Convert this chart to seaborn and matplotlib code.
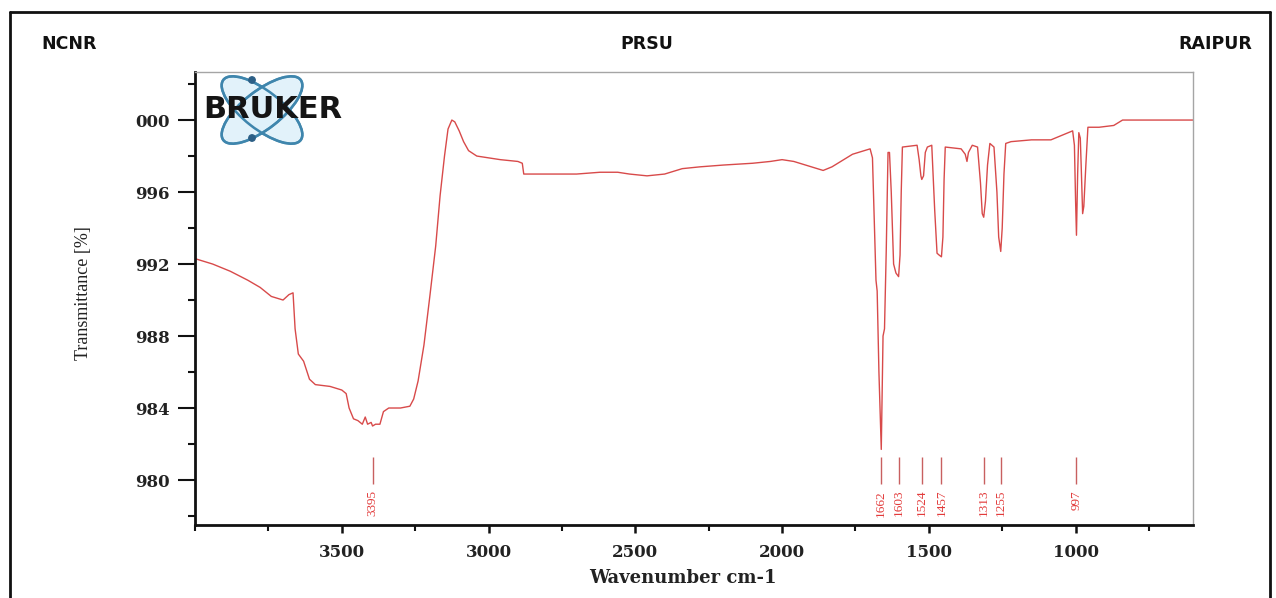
import matplotlib
matplotlib.use("Agg")
import matplotlib.pyplot as plt
import pandas as pd
import seaborn as sns
from matplotlib.patches import Ellipse, Circle
from matplotlib.lines import Line2D
from matplotlib.ticker import MultipleLocator

# IR spectrum: wavenumber (cm-1) and transmittance
wavenumber = [
    4000, 3940, 3880, 3820, 3778, 3740, 3700, 3680, 3666, 3659, 3648, 3630,
    3610, 3590, 3540, 3500, 3485, 3475, 3460, 3445, 3430, 3420, 3412, 3400,
    3395, 3385, 3370, 3358, 3340, 3300, 3268, 3255, 3240, 3220, 3200, 3180,
    3165, 3150, 3138, 3125, 3115, 3100, 3085, 3068, 3040, 3000, 2960, 2900,
    2885, 2880, 2860, 2800, 2700, 2620, 2560, 2520, 2460, 2400, 2340, 2280,
    2200, 2100, 2040, 2000, 1960, 1920, 1880, 1860, 1830, 1800, 1760, 1720,
    1700, 1692, 1686, 1680, 1676, 1670, 1662, 1656, 1651, 1645, 1639, 1634,
    1628, 1620, 1612, 1603, 1598, 1594, 1590, 1540, 1533, 1527, 1524, 1518,
    1512, 1505, 1490, 1480, 1472, 1465, 1457, 1452, 1448, 1444, 1390, 1376,
    1370, 1365, 1352, 1334, 1324, 1318, 1313, 1307, 1300, 1292, 1278, 1268,
    1262, 1255, 1250, 1244, 1238, 1220, 1150, 1084, 1040, 1010, 1004, 1000,
    997, 993, 989, 984, 981, 976, 972, 965, 958, 920, 870, 840, 700, 600,
]
transmittance = [
    992.3, 992.0, 991.6, 991.1, 990.7, 990.2, 990.0, 990.3, 990.4, 988.4, 987.0, 986.6,
    985.6, 985.3, 985.2, 985.0, 984.8, 984.0, 983.4, 983.3, 983.1, 983.5, 983.1, 983.2,
    983.0, 983.1, 983.1, 983.8, 984.0, 984.0, 984.1, 984.5, 985.5, 987.5, 990.2, 993.0,
    995.8, 998.0, 999.5, 1000.0, 999.9, 999.4, 998.8, 998.3, 998.0, 997.9, 997.8, 997.7,
    997.6, 997.0, 997.0, 997.0, 997.0, 997.1, 997.1, 997.0, 996.9, 997.0, 997.3, 997.4,
    997.5, 997.6, 997.7, 997.8, 997.7, 997.5, 997.3, 997.2, 997.4, 997.7, 998.1, 998.3,
    998.4, 997.9, 994.4, 991.1, 990.5, 986.0, 981.7, 988.0, 988.4, 992.8, 998.2, 998.2,
    996.0, 992.0, 991.5, 991.3, 992.5, 996.0, 998.5, 998.6, 997.8, 996.9, 996.7, 996.9,
    998.2, 998.5, 998.6, 995.0, 992.6, 992.5, 992.4, 993.5, 996.7, 998.5, 998.4, 998.1,
    997.7, 998.2, 998.6, 998.5, 996.5, 994.8, 994.6, 995.5, 997.5, 998.7, 998.5, 996.0,
    993.5, 992.7, 994.0, 997.0, 998.7, 998.8, 998.9, 998.9, 999.2, 999.4, 998.6, 995.5,
    993.6, 997.0, 999.3, 999.0, 997.5, 994.8, 995.2, 997.5, 999.6, 999.6, 999.7, 1000.0,
    1000.0, 1000.0,
]

# Labelled band positions
peak_positions = [3395, 1662, 1603, 1524, 1457, 1313, 1255, 997]

# Axis ticks
x_ticks = [3500, 3000, 2500, 2000, 1500, 1000]
x_tick_labels = ["3500", "3000", "2500", "2000", "1500", "1000"]
y_ticks = [980, 984, 988, 992, 996, 1000]
y_tick_labels = ["980", "984", "988", "992", "996", "000"]

sns.set_style("white")

W, H = 1276, 598
fig = plt.figure(figsize=(W / 100, H / 100), dpi=100)
fig.patch.set_facecolor("white")

ax_l, ax_r, ax_t, ax_b = 195, 1193, 72, 525
ax = fig.add_axes([ax_l / W, 1 - ax_b / H, (ax_r - ax_l) / W, (ax_b - ax_t) / H])

df = pd.DataFrame({"wavenumber": wavenumber, "transmittance": transmittance})
sns.lineplot(data=df, x="wavenumber", y="transmittance", ax=ax,
             color="#d84a4a", lw=1.0, sort=False, estimator=None)

ax.set_xlim(4000, 600)
ax.set_ylim(977.5, 1002.67)

# Band markers and their labels
ax.vlines(peak_positions, 979.8, 981.3, color="#c86060", lw=1.0)
for p in peak_positions:
    ax.text(p, 979.45, str(p), rotation=90, ha="center", va="top",
            color="#e23a3a", family="Liberation Serif", fontsize=9.5)

# Ticks
ax.set_xticks(x_ticks)
ax.set_xticklabels(x_tick_labels, fontfamily="DejaVu Serif", fontweight="bold",
                   fontsize=12, color="#222222")
ax.set_yticks(y_ticks)
ax.set_yticklabels(y_tick_labels, fontfamily="DejaVu Serif", fontweight="bold",
                   fontsize=12, color="#222222")
ax.xaxis.set_minor_locator(MultipleLocator(250))
ax.yaxis.set_minor_locator(MultipleLocator(2))
ax.tick_params(axis="y", which="major", direction="out", length=12, width=1.5,
               pad=6, color="#111111", left=True)
ax.tick_params(axis="y", which="minor", direction="out", length=5, width=1.5,
               color="#111111", left=True)
ax.tick_params(axis="x", which="major", direction="out", length=6, width=1.8,
               pad=8, color="#111111", bottom=True)
ax.tick_params(axis="x", which="minor", direction="out", length=4, width=1.5,
               color="#111111", bottom=True)

ax.set_xlabel("")
ax.set_ylabel("")

for side in ("left", "bottom"):
    ax.spines[side].set_color("#111111")
    ax.spines[side].set_linewidth(2.0)
for side in ("top", "right"):
    ax.spines[side].set_color("#a5a5a5")
    ax.spines[side].set_linewidth(1.0)

# Axis titles
fig.text(83 / W, 1 - 293 / H, "Transmittance [%]", rotation=90, ha="center",
         va="center", family="Liberation Serif", fontsize=13, color="#222222")
fig.text(683 / W, 1 - 578 / H, "Wavenumber cm-1", ha="center", va="center",
         family="DejaVu Serif", fontweight="bold", fontsize=13, color="#222222")

# Header line
for label, xc in (("NCNR", 69), ("PRSU", 647), ("RAIPUR", 1215)):
    fig.text(xc / W, 1 - 44 / H, label, ha="center", va="center",
             family="DejaVu Sans", fontweight="heavy", fontsize=12.5, color="#111111")

# Instrument logo
lx0, ly0, lw_, lh_ = 195, 73, 160, 97
logo = fig.add_axes([lx0 / W, 1 - (ly0 + lh_) / H, lw_ / W, lh_ / H])
logo.set_xlim(0, lw_)
logo.set_ylim(lh_, 0)
logo.axis("off")
logo.patch.set_alpha(0)
cx, cy = 262 - lx0, 110 - ly0
for ang in (38, -38):
    logo.add_patch(Ellipse((cx, cy), 98, 38, angle=ang, facecolor="#dff1fa",
                           edgecolor="#3f86ad", lw=1.8, alpha=0.9))
for ang in (38, -38):
    logo.add_patch(Ellipse((cx, cy), 98, 38, angle=ang, facecolor="none",
                           edgecolor="#3f86ad", lw=1.8))
logo.add_patch(Circle((cx - 10, 80 - ly0), 3.2, color="#2c5f86"))
logo.add_patch(Circle((cx - 10, 138 - ly0), 3.2, color="#2c5f86"))
fig.text(273 / W, 1 - 110 / H, "BRUKER", ha="center", va="center",
         family="DejaVu Sans", fontweight="heavy", fontsize=22, color="#151515")

# Page frame
def frame_line(xs, ys):
    fig.add_artist(Line2D([x / W for x in xs], [1 - y / H for y in ys],
                          transform=fig.transFigure, color="#111111", lw=2.0))

frame_line([10, 10], [12, H])
frame_line([10, 1270], [12, 12])
frame_line([1270, 1270], [12, H])

fig.savefig("out.png", dpi=100, facecolor="white")
